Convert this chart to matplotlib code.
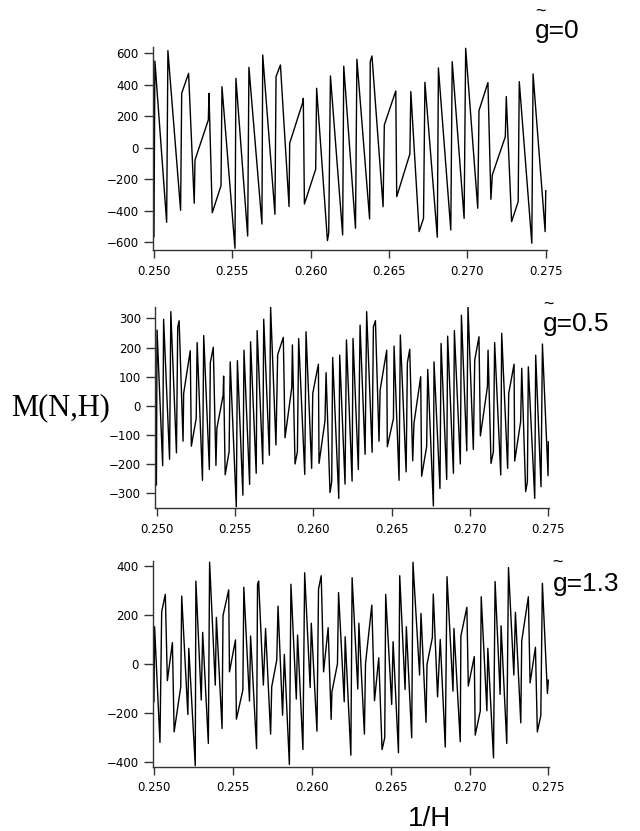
import numpy as np
import matplotlib
matplotlib.use("Agg")
import matplotlib.pyplot as plt

# ---- data (1/H, M) ----
x_g0 = [0.25000, 0.25006, 0.25081, 0.25089, 0.25170, 0.25177, 0.25221, 0.25257, 0.25262, 0.25347,
        0.25351, 0.25372, 0.25428, 0.25434, 0.25517, 0.25523, 0.25598, 0.25606, 0.25689, 0.25694,
        0.25772, 0.25779, 0.25807, 0.25862, 0.25866, 0.25949, 0.25953, 0.25960, 0.26032, 0.26038,
        0.26107, 0.26115, 0.26126, 0.26204, 0.26211, 0.26286, 0.26295, 0.26376, 0.26380, 0.26391,
        0.26462, 0.26470, 0.26543, 0.26549, 0.26633, 0.26639, 0.26692, 0.26720, 0.26729, 0.26808,
        0.26815, 0.26894, 0.26903, 0.26979, 0.26989, 0.27066, 0.27074, 0.27131, 0.27150, 0.27159,
        0.27242, 0.27248, 0.27282, 0.27324, 0.27331, 0.27411, 0.27419, 0.27496, 0.27500]
m_g0 = [-564, 551, -473, 617, -397, 346, 473, -352, -77, 177,
        346, -412, -240, 388, -638, 441, -560, 511, -484, 589,
        -422, 452, 526, -373, 29, 287, 314, -357, -136, 378,
        -589, -543, 456, -553, 518, -511, 562, -452, 547, 583,
        -374, 145, 361, -310, -39, 357, -532, -448, 416, -568,
        507, -522, 547, -448, 632, -384, 236, 414, -327, -172,
        71, 325, -469, -342, 420, -606, 469, -532, -272]

x_g05 = [0.24998, 0.25002, 0.25038, 0.25044, 0.25082, 0.25090, 0.25126, 0.25134, 0.25143, 0.25168,
         0.25172, 0.25214, 0.25221, 0.25252, 0.25258, 0.25292, 0.25300, 0.25336, 0.25342, 0.25361,
         0.25378, 0.25384, 0.25424, 0.25427, 0.25437, 0.25462, 0.25469, 0.25508, 0.25515, 0.25550,
         0.25557, 0.25593, 0.25599, 0.25635, 0.25641, 0.25677, 0.25683, 0.25719, 0.25727, 0.25761,
         0.25772, 0.25808, 0.25819, 0.25862, 0.25866, 0.25883, 0.25898, 0.25906, 0.25945, 0.25953,
         0.25989, 0.25996, 0.26032, 0.26036, 0.26074, 0.26081, 0.26106, 0.26117, 0.26123, 0.26162,
         0.26168, 0.26202, 0.26211, 0.26247, 0.26253, 0.26287, 0.26298, 0.26330, 0.26340, 0.26375,
         0.26383, 0.26396, 0.26419, 0.26426, 0.26468, 0.26472, 0.26511, 0.26515, 0.26547, 0.26555,
         0.26592, 0.26600, 0.26615, 0.26634, 0.26642, 0.26685, 0.26691, 0.26723, 0.26730, 0.26766,
         0.26770, 0.26808, 0.26815, 0.26851, 0.26857, 0.26894, 0.26900, 0.26938, 0.26945, 0.26979,
         0.26987, 0.27021, 0.27030, 0.27057, 0.27066, 0.27111, 0.27115, 0.27134, 0.27149, 0.27157,
         0.27196, 0.27202, 0.27240, 0.27247, 0.27281, 0.27285, 0.27323, 0.27330, 0.27355, 0.27366,
         0.27372, 0.27413, 0.27419, 0.27453, 0.27462, 0.27498, 0.27500]
m_g05 = [-271, 260, -205, 297, -183, 323, -161, 269, 292, -121,
         43, 189, -138, -43, 217, -255, 241, -218, 148, 201,
         -204, -77, 37, 102, -236, -157, 151, -346, 155, -306,
         191, -269, 220, -231, 258, -199, 297, -169, 338, -134,
         175, 235, -109, 63, 209, -199, -157, 231, -235, 254,
         -214, 43, 143, -197, -51, 114, -297, -260, 166, -317,
         174, -268, 226, -258, 231, -218, 277, -166, 323, -159,
         271, 292, -121, 54, 191, -140, -43, 205, -255, 243,
         -226, 148, 194, -188, -60, 100, -241, -140, 125, -343,
         151, -283, 214, -252, 239, -231, 258, -199, 311, -154,
         340, -149, 157, 237, -103, 66, 191, -197, -157, 217,
         -237, 249, -214, 43, 143, -189, -54, 129, -294, -260,
         134, -317, 174, -277, 212, -239, -123]

x_g13 = [0.24998, 0.25002, 0.25036, 0.25047, 0.25070, 0.25083, 0.25115, 0.25126, 0.25168, 0.25174,
         0.25213, 0.25219, 0.25260, 0.25264, 0.25298, 0.25307, 0.25343, 0.25351, 0.25387, 0.25394,
         0.25430, 0.25436, 0.25472, 0.25477, 0.25515, 0.25521, 0.25562, 0.25568, 0.25604, 0.25611,
         0.25649, 0.25655, 0.25662, 0.25692, 0.25706, 0.25738, 0.25745, 0.25777, 0.25785, 0.25814,
         0.25825, 0.25857, 0.25867, 0.25901, 0.25909, 0.25943, 0.25954, 0.25989, 0.25996, 0.26032,
         0.26042, 0.26059, 0.26074, 0.26103, 0.26122, 0.26127, 0.26162, 0.26169, 0.26205, 0.26211,
         0.26247, 0.26255, 0.26291, 0.26298, 0.26333, 0.26340, 0.26380, 0.26397, 0.26424, 0.26445,
         0.26462, 0.26468, 0.26506, 0.26515, 0.26549, 0.26557, 0.26591, 0.26599, 0.26633, 0.26641,
         0.26683, 0.26692, 0.26724, 0.26730, 0.26764, 0.26770, 0.26797, 0.26814, 0.26846, 0.26857,
         0.26895, 0.26901, 0.26941, 0.26945, 0.26983, 0.26992, 0.27030, 0.27036, 0.27068, 0.27074,
         0.27110, 0.27116, 0.27152, 0.27162, 0.27194, 0.27200, 0.27236, 0.27247, 0.27281, 0.27291,
         0.27325, 0.27331, 0.27373, 0.27384, 0.27418, 0.27430, 0.27452, 0.27462, 0.27494, 0.27500]
m_g13 = [-155, 151, -321, 212, 283, -69, 86, -278, -94, 276,
         -207, 63, -416, 337, -148, 128, -325, 414, -87, 189,
         -264, 196, 301, -33, 97, -226, -107, 312, -152, 113,
         -346, 324, 337, -87, 144, -287, -94, 15, 235, -210,
         38, -411, 324, -144, 117, -350, 371, -97, 165, -275,
         305, 359, -33, 147, -227, -114, -1, 290, -155, 110,
         -373, 351, -103, 165, -287, 1, 239, -151, 24, -350,
         -302, 283, -166, 90, -363, 359, -105, 151, -302, 414,
         -46, 205, -239, -3, 106, 284, -135, 99, -340, 355,
         -112, 144, -318, 113, 230, -91, 29, -291, -193, 273,
         -192, 63, -384, 335, -125, 155, -325, 392, -46, 210,
         -241, 93, 273, -78, 67, -278, -212, 328, -121, -67]

x_ticks = [0.250, 0.255, 0.260, 0.265, 0.270, 0.275]
panel_labels = ["g=0", "g=0.5", "g=1.3"]

W, H = 640, 831


def px_box(left, top, right, bottom):
    # pixel box -> figure fraction rect
    return [left / W, 1 - bottom / H, (right - left) / W, (bottom - top) / H]


fig = plt.figure(figsize=(6.4, 8.31), dpi=100)

panels = [
    (x_g0, m_g0, px_box(152.7, 47, 546.7, 250), (0.24992, 0.27506), (-649, 640), np.arange(-600, 601, 200)),
    (x_g05, m_g05, px_box(155, 306.7, 549, 508.3), (0.24989, 0.27504), (-351, 340), np.arange(-300, 301, 100)),
    (x_g13, m_g13, px_box(152.7, 561, 549, 766.7), (0.2499, 0.27504), (-420, 419), np.arange(-400, 401, 200)),
]

for xs, ys, rect, xl, yl, yt in panels:
    ax = fig.add_axes(rect)
    ax.plot(xs, ys, color="black", lw=1.0)
    ax.set_xlim(*xl)
    ax.set_ylim(*yl)
    ax.set_xticks(x_ticks)
    ax.set_xticklabels(["%.3f" % v for v in x_ticks])
    ax.set_yticks(yt)
    for s in ["top", "right"]:
        ax.spines[s].set_visible(False)
    for s in ["left", "bottom"]:
        ax.spines[s].set_color("#333333")
        ax.spines[s].set_linewidth(1.0)
    ax.tick_params(axis="y", direction="out", length=6.5, width=1.0, pad=3.5,
                   labelsize=8.5, color="#333333")
    ax.tick_params(axis="x", direction="out", length=5.5, width=1.0, pad=5,
                   labelsize=8.5, color="#333333")
    for lab in ax.get_xticklabels() + ax.get_yticklabels():
        lab.set_family("DejaVu Sans")

# panel labels with a small tilde over the g
lab_pos = [(535, 38.3, 540.5, 16), (543, 331, 548, 309), (553, 591, 557.5, 567)]
for txt, (gx, gy, tx, ty) in zip(panel_labels, lab_pos):
    fig.text(gx / W, 1 - gy / H, txt, fontsize=19, family="Liberation Sans",
             ha="left", va="baseline")
    fig.text(tx / W, 1 - ty / H, "~", fontsize=13, family="Liberation Sans",
             ha="center", va="baseline")

fig.text(61 / W, 1 - 415 / H, "M(N,H)", fontsize=22, family="Liberation Serif",
         ha="center", va="baseline")
fig.text(430 / W, 1 - 826 / H, "1/H", fontsize=20, family="Liberation Sans",
         ha="center", va="baseline")

fig.savefig("out.png", dpi=100)
